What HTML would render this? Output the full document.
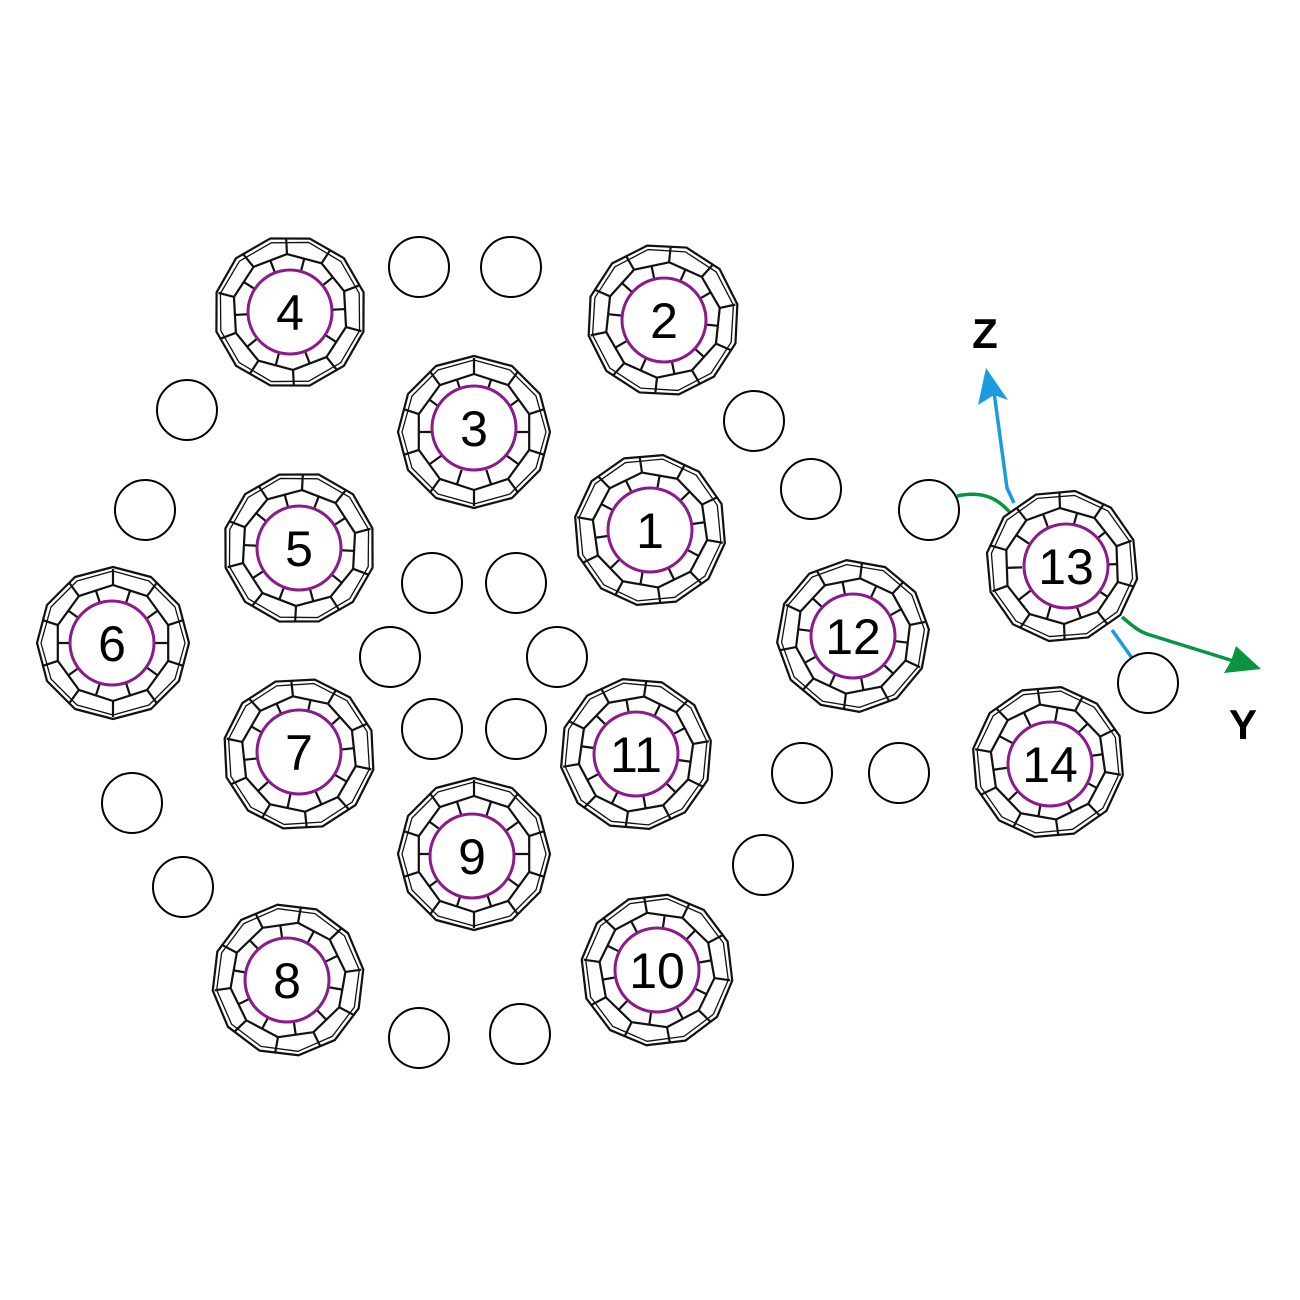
<!DOCTYPE html>
<html><head><meta charset="utf-8"><style>
html,body{margin:0;padding:0;background:#fff}
svg{display:block}
text{font-family:"Liberation Sans","DejaVu Sans",sans-serif}
</style></head><body>
<svg width="1300" height="1300" viewBox="0 0 1300 1300" xmlns="http://www.w3.org/2000/svg">
<defs>
<g id="cage" fill="none" stroke="#111" stroke-width="2.2" stroke-linejoin="round">
<polygon points="76,0 66,38 38,66 0,76 -38,66 -66,38 -76,0 -66,-38 -38,-66 0,-76 38,-66 66,-38" fill="#fff"/>
<polygon points="72,0 62,36 36,62 0,72 -36,62 -62,36 -72,0 -62,-36 -36,-62 0,-72 36,-62 62,-36" stroke-width="1.3"/>
<polygon points="58,0 46.9,34.1 17.9,55.2 -17.9,55.2 -46.9,34.1 -58,0 -46.9,-34.1 -17.9,-55.2 17.9,-55.2 46.9,-34.1"/>
<path d="M58,0L74,0M46.9,34.1L60,43.6M17.9,55.2L22.9,70.5M-17.9,55.2L-22.9,70.5M-46.9,34.1L-60,43.6M-58,0L-74,0M-46.9,-34.1L-60,-43.6M-17.9,-55.2L-22.9,-70.5M17.9,-55.2L22.9,-70.5M46.9,-34.1L60,-43.6"/>
<path d="M38,12.4L52.5,17.1M23.5,32.4L32.4,44.7M0,40L0,55.2M-23.5,32.4L-32.4,44.7M-38,12.4L-52.5,17.1M-38,-12.4L-52.5,-17.1M-23.5,-32.4L-32.4,-44.7M0,-40L0,-55.2M23.5,-32.4L32.4,-44.7M38,-12.4L52.5,-17.1"/>
</g>
</defs>
<!-- axes -->
<g fill="none" stroke-width="3.5">
<path d="M1014,503 L1007,488 L994,392" stroke="#1a9be0"/>
<path d="M1112,630 L1132,658" stroke="#1a9be0"/>
<path d="M957,496 C985,490 1000,500 1012,515" stroke="#0a9440"/>
<path d="M1122,617 C1135,628 1140,632 1150,635 L1240,663" stroke="#0a9440"/>
</g>
<polygon points="986,368 1008,400 994,395 978,405" fill="#1a9be0"/>
<polygon points="1261,669 1224,673 1231,661 1236,646" fill="#0a9440"/>
<text x="985" y="348" font-size="42" font-weight="bold" text-anchor="middle">Z</text>
<text x="1243" y="739" font-size="42" font-weight="bold" text-anchor="middle">Y</text>
<!-- small circles -->
<g fill="#fff" stroke="#000" stroke-width="2">
<circle cx="419" cy="267" r="30"/><circle cx="511" cy="267" r="30"/>
<circle cx="187" cy="410" r="30"/><circle cx="754" cy="421" r="30"/>
<circle cx="145" cy="510" r="30"/><circle cx="811" cy="489" r="30"/>
<circle cx="432" cy="583" r="30"/><circle cx="516" cy="583" r="30"/>
<circle cx="929" cy="510" r="30"/><circle cx="390" cy="657" r="30"/>
<circle cx="557" cy="657" r="30"/><circle cx="432" cy="729" r="30"/>
<circle cx="516" cy="729" r="30"/><circle cx="1148" cy="683" r="30"/>
<circle cx="802" cy="773" r="30"/><circle cx="899" cy="773" r="30"/>
<circle cx="132" cy="803" r="30"/><circle cx="763" cy="865" r="30"/>
<circle cx="183" cy="887" r="30"/><circle cx="419" cy="1038" r="30"/>
<circle cx="520" cy="1034" r="30"/>
</g>
<!-- cages -->
<use href="#cage" transform="translate(650,530) rotate(10)"/>
<use href="#cage" transform="translate(663,320) rotate(-12)"/>
<use href="#cage" transform="translate(474,432) rotate(90)"/>
<use href="#cage" transform="translate(290,312) rotate(15)"/>
<use href="#cage" transform="translate(299,548) rotate(-15)"/>
<use href="#cage" transform="translate(113,643) rotate(90)"/>
<use href="#cage" transform="translate(299,754) rotate(12)"/>
<use href="#cage" transform="translate(288,980) rotate(-8)"/>
<use href="#cage" transform="translate(474,854) rotate(90)"/>
<use href="#cage" transform="translate(657,970) rotate(8)"/>
<use href="#cage" transform="translate(636,754) rotate(-10)"/>
<use href="#cage" transform="translate(853,636) rotate(25)"/>
<use href="#cage" transform="translate(1062,566) rotate(-20)"/>
<use href="#cage" transform="translate(1048,762) rotate(10)"/>
<!-- labels -->
<g fill="#fff" stroke="#8b1a8b" stroke-width="3">
<circle cx="650" cy="530" r="42"/><circle cx="664" cy="320" r="42"/>
<circle cx="474" cy="428" r="42"/><circle cx="290" cy="312" r="42"/>
<circle cx="299" cy="548" r="42"/><circle cx="112" cy="643" r="42"/>
<circle cx="299" cy="752" r="42"/><circle cx="287" cy="980" r="42"/>
<circle cx="472" cy="856" r="42"/><circle cx="657" cy="970" r="42"/>
<circle cx="636" cy="754" r="42"/><circle cx="853" cy="636" r="42"/>
<circle cx="1066" cy="566" r="42"/><circle cx="1050" cy="764" r="42"/>
</g>
<g font-size="50" text-anchor="middle" fill="#000">
<text x="650" y="548">1</text><text x="664" y="338">2</text>
<text x="474" y="446">3</text><text x="290" y="330">4</text>
<text x="299" y="566">5</text><text x="112" y="661">6</text>
<text x="299" y="770">7</text><text x="287" y="998">8</text>
<text x="472" y="874">9</text><text x="657" y="988">10</text>
<text x="636" y="772">11</text><text x="853" y="654">12</text>
<text x="1066" y="584">13</text><text x="1050" y="782">14</text>
</g>
</svg>
</body></html>
